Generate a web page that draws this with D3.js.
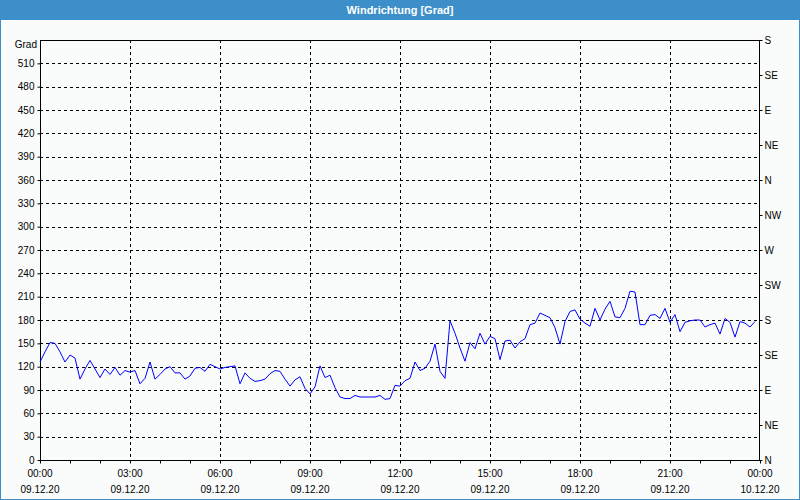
<!DOCTYPE html>
<html><head><meta charset="utf-8">
<script src="https://cdn.jsdelivr.net/npm/d3@7"></script>
<style>
html,body{margin:0;padding:0;background:#fff;}
svg text{font-family:"Liberation Sans",Arial,sans-serif;}
</style></head>
<body><svg id="c" width="800" height="500"></svg>
<script>
const title = "Windrichtung [Grad]";
const yUnit = "Grad";
const yTicks = [0,30,60,90,120,150,180,210,240,270,300,330,360,390,420,450,480,510];
const compassValues = [0,45,90,135,180,225,270,315,360,405,450,495,540];
const compassLabels = ["N","NE","E","SE","S","SW","W","NW","N","NE","E","SE","S"];
const xTickHours = [0,3,6,9,12,15,18,21,24];
const xTimeLabels = ["00:00","03:00","06:00","09:00","12:00","15:00","18:00","21:00","00:00"];
const xDateLabels = ["09.12.20","09.12.20","09.12.20","09.12.20","09.12.20","09.12.20","09.12.20","09.12.20","10.12.20"];
const sampleMinutes = 10;
const values = [
126,139,151,150,139,126,135,131,104,117,128,117,106,117,110,119,109,115,113,115,
98,105,126,104,110,117,120,112,112,104,108,118,119,114,123,120,117,119,120,121,
98,112,105,101,102,104,111,115,114,104,95,103,107,92,85,94,121,106,109,93,
81,79,79,83,81,81,81,81,83,78,79,96,95,102,105,126,115,118,127,149,
114,105,179,163,144,127,151,143,163,149,159,156,129,153,154,144,152,156,174,176,
189,186,183,170,149,178,191,193,181,176,172,195,180,194,204,184,183,195,217,216,
174,174,186,187,182,195,177,187,165,177,179,180,180,171,174,176,162,182,177,158,
178,176,171,178
];

const W = 800, H = 500;
const L = 40, R = 760, T = 40, B = 460;
const svg = d3.select("#c");

// background & frame
svg.append("rect").attr("x",0).attr("y",0).attr("width",W).attr("height",H).attr("fill","#fafcfb");
svg.append("rect").attr("x",0).attr("y",0).attr("width",W).attr("height",20).attr("fill","#3c8fc8");
svg.append("rect").attr("x",0.5).attr("y",0.5).attr("width",W-1).attr("height",H-1)
  .attr("fill","none").attr("stroke","#3c8fc8").attr("stroke-width",1);
svg.append("text").attr("x",W/2).attr("y",14).attr("text-anchor","middle")
  .attr("fill","#fff").attr("font-weight","bold").attr("font-size","11px").text(title);

const x = d3.scaleLinear().domain([0,24]).range([L,R]);
const y = d3.scaleLinear().domain([0,540]).range([B,T]);

// grid
const g = svg.append("g");
g.selectAll("line.hg").data(yTicks.filter(v=>v>0)).join("line")
  .attr("x1",L).attr("x2",R).attr("y1",d=>Math.round(y(d))+0.5).attr("y2",d=>Math.round(y(d))+0.5)
  .attr("stroke","#000").attr("stroke-width",1).attr("stroke-dasharray","3,3");
g.selectAll("line.vg").data(xTickHours.filter(h=>h>0&&h<24)).join("line")
  .attr("y1",T).attr("y2",B).attr("x1",d=>Math.round(x(d))+0.5).attr("x2",d=>Math.round(x(d))+0.5)
  .attr("stroke","#000").attr("stroke-width",1).attr("stroke-dasharray","3,3");

// plot frame
svg.append("rect").attr("x",L+0.5).attr("y",T+0.5).attr("width",R-L-1).attr("height",B-T)
  .attr("fill","none").attr("stroke","#000").attr("stroke-width",1);

// left axis
const yAxis = d3.axisLeft(y).tickValues(yTicks).tickSize(3).tickPadding(3).tickFormat(d3.format("d"));
const ya = svg.append("g").attr("transform",`translate(${L+0.5},0)`).call(yAxis);
ya.select(".domain").remove();
ya.selectAll("text").attr("font-size","10px").attr("fill","#000").attr("font-family","Liberation Sans, Arial, sans-serif");
svg.append("text").attr("x",37).attr("y",48).attr("text-anchor","end").attr("font-size","10px").attr("fill","#000").text(yUnit);

// right axis (compass)
const rAxis = d3.axisRight(y).tickValues(compassValues).tickSize(3).tickPadding(2)
  .tickFormat((d,i)=>compassLabels[i]);
const ra = svg.append("g").attr("transform",`translate(${R-0.5},0)`).call(rAxis);
ra.select(".domain").remove();
ra.selectAll("text").attr("font-size","10px").attr("fill","#000").attr("font-family","Liberation Sans, Arial, sans-serif");

// bottom axis
const xAxis = d3.axisBottom(x).tickValues(d3.range(0,25,1)).tickSize(3).tickFormat("");
const xa = svg.append("g").attr("transform",`translate(0,${B+0.5})`).call(xAxis);
xa.select(".domain").remove();
xa.selectAll("line").attr("stroke","#000");
svg.selectAll("text.xt").data(xTickHours).join("text").attr("class","xt")
  .attr("x",d=>x(d)).attr("y",477).attr("text-anchor","middle").attr("font-size","10px").attr("fill","#000")
  .text((d,i)=>xTimeLabels[i]);
svg.selectAll("text.xd").data(xTickHours).join("text").attr("class","xd")
  .attr("x",d=>x(d)).attr("y",493).attr("text-anchor","middle").attr("font-size","10px").attr("fill","#000")
  .text((d,i)=>xDateLabels[i]);

// data line
const line = d3.line().x((d,i)=>x(i*sampleMinutes/60)).y(d=>y(d));
svg.append("path").datum(values).attr("d",line).attr("fill","none")
  .attr("stroke","#0000ff").attr("stroke-width",1);
</script></body></html>
